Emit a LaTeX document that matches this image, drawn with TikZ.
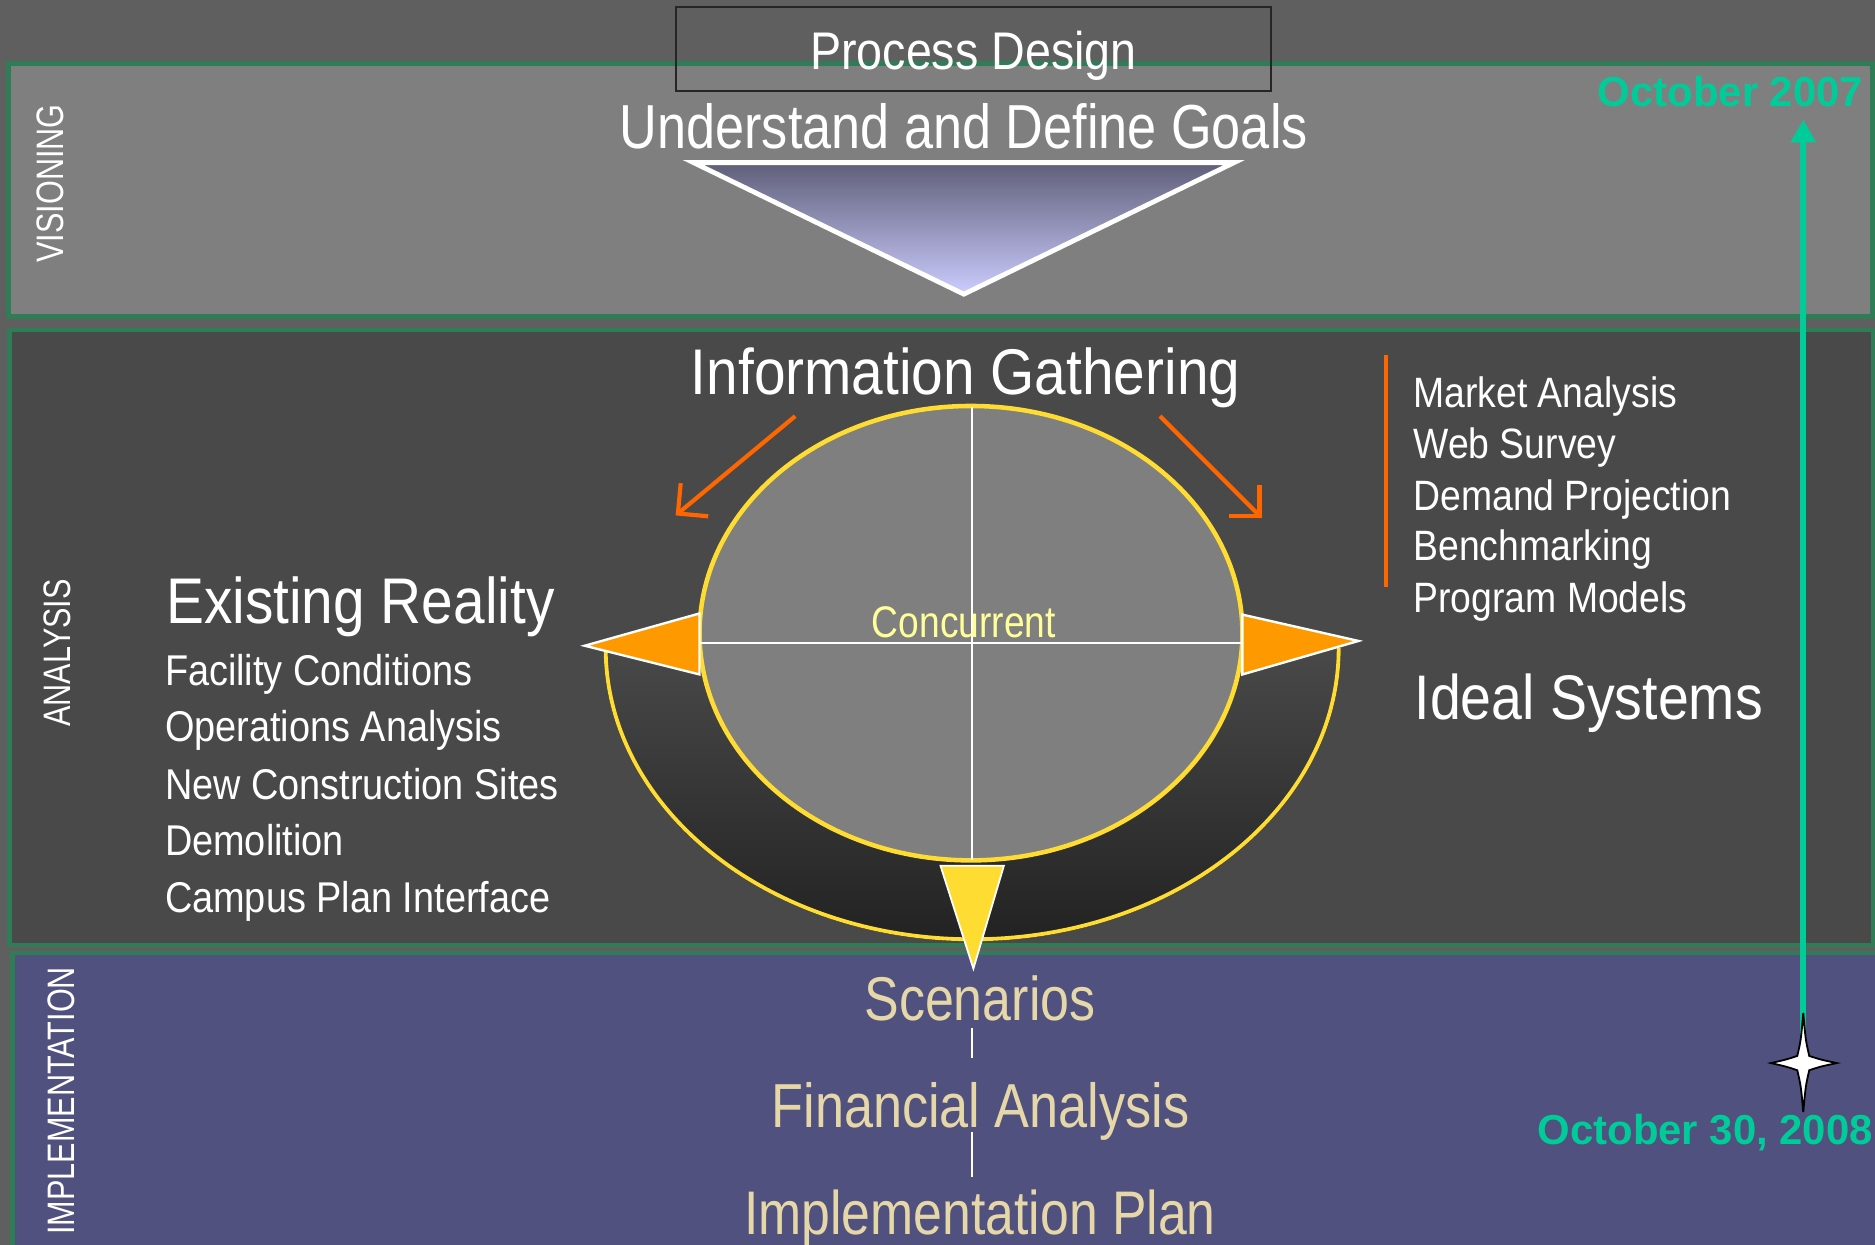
\documentclass[tikz,border=0pt]{standalone}
\usepackage{fontspec}
\setmainfont{Liberation Sans}
\newfontfamily\nar[FakeStretch=0.88]{Liberation Sans}
\newfontfamily\narl[FakeStretch=0.84]{Liberation Sans}
\newfontfamily\lbl[FakeStretch=0.8]{Liberation Sans}
\usetikzlibrary{arrows.meta}
\newcommand\myfs[1]{\fontsize{#1}{#1}\selectfont}
\definecolor{bgc}{HTML}{5F5F5F}
\definecolor{visfill}{HTML}{7F7F7F}
\definecolor{anafill}{HTML}{494949}
\definecolor{ringbot}{HTML}{222222}
\definecolor{impfill}{HTML}{50517E}
\definecolor{bandgreen}{HTML}{2E7D56}
\definecolor{teal}{HTML}{00CC99}
\definecolor{orng}{HTML}{FF6600}
\definecolor{orfill}{HTML}{FF9900}
\definecolor{ylw}{HTML}{FFDC32}
\definecolor{conc}{HTML}{FFFF99}
\definecolor{beige}{HTML}{E6D7A8}
\definecolor{tritop}{HTML}{5F5F79}
\definecolor{tribot}{HTML}{CCCCFF}
\begin{document}
\begin{tikzpicture}[x=1pt,y=-1pt,
  band/.style={draw=bandgreen, line width=4pt},
  txt/.style={inner sep=0pt, outer sep=0pt, text=white},
  sidelabel/.style={txt, rotate=90, font={\lbl\myfs{32}}},
  listitem/.style={txt, anchor=base west, font={\nar\myfs{35.5}}},
  bigtitle/.style={txt, font={\nar\myfs{54}}},
  lowtitle/.style={txt, anchor=base, text=beige},
  datelabel/.style={txt, text=teal, font={\bfseries\myfs{35}}},
  orarrow/.style={draw=orng, line width=3.5pt, -{Straight Barb[length=18pt,width=36pt]}},
  pointer/.style={draw=white, line width=2pt, line join=miter},
  thinwhite/.style={draw=white, line width=1.5pt}
]
\useasboundingbox (0,0) rectangle (1568,1041);
\fill[bgc] (0,0) rectangle (1568,1041);

% bands
\draw[band, fill=visfill] (7,53) rectangle (1566,265);
\draw[band, fill=anafill, line width=3.5pt] (8,276) rectangle (1566,790);
\draw[band, fill=impfill] (10.5,797) rectangle (1590,1070);

% side labels
\node[sidelabel] (vis) at (42.5,153.5) {VISIONING};
\node[sidelabel] (ana) at (48,546) {ANALYSIS};
\node[sidelabel] (imp) at (51.5,920.5) {IMPLEMENTATION};

% process design
\draw[draw=black!85, line width=1.5pt] (565,6) rectangle (1063,76);
\node[txt, anchor=base, font={\nar\myfs{44.3}}] (pd) at (814,58) {Process Design};
\node[txt, anchor=base, font={\narl\myfs{52}}] (goals) at (806,124) {Understand and Define Goals};
\draw[draw=white, line width=4pt, top color=tritop, bottom color=tribot, line join=miter]
  (580,136) -- (1032,136) -- (806,246) -- cycle;

% timeline
\node[datelabel, anchor=base east] (d1) at (1558,89) {October 2007};
\node[datelabel, anchor=base west] (d2) at (1286,957.5) {October 30, 2008};
\coordinate (tstart) at (1508,889);
\coordinate (tend) at (1508,100);
\draw[teal, line width=5pt, -{Triangle[length=19pt,width=20pt]}] (tstart) -- (tend);
\draw[fill=white, draw=black, line width=1.5pt, line join=miter]
  (1508,847) .. controls (1510,870) .. (1513,883)
  .. controls (1522,886) .. (1536,889)
  .. controls (1522,892) .. (1513,895)
  .. controls (1510,908) .. (1508,930)
  .. controls (1506,908) .. (1503,895)
  .. controls (1494,892) .. (1481,889)
  .. controls (1494,886) .. (1503,883)
  .. controls (1506,870) .. (1508,847) -- cycle;

% analysis: information gathering
\node[bigtitle, anchor=base] (info) at (807.5,330) {Information Gathering};
\coordinate (la1) at (665,348);
\coordinate (la2) at (565,431);
\coordinate (ra1) at (970,348);
\coordinate (ra2) at (1055,433);
\draw[orarrow] (la1) -- (la2);
\draw[orarrow] (ra1) -- (ra2);

% horseshoe
\fill[top color=anafill, bottom color=ringbot]
  (505,542) arc[start angle=180, end angle=360, x radius=308pt, y radius=245pt] -- cycle;
\draw[ylw, line width=3.2pt]
  (506.5,542) arc[start angle=180, end angle=360, x radius=306.5pt, y radius=243.5pt];

% central ellipse
\draw[fill=visfill, draw=ylw, line width=3.8pt] (812,529.5) ellipse [x radius=227pt, y radius=190pt];
\coordinate (ct) at (813,340);
\coordinate (cb) at (813,719);
\coordinate (cl) at (585,538);
\coordinate (cr) at (1039,538);
\draw[thinwhite] (ct) -- (cb);
\draw[thinwhite] (cl) -- (cr);
\node[txt, anchor=base, text=conc, font={\narl\myfs{37}}] (cc) at (806,533) {Concurrent};

% pointers
\draw[pointer, fill=orfill] (489,540) -- (585,513) -- (585,564) -- cycle;
\draw[pointer, fill=orfill] (1136,536) -- (1039,514) -- (1039,564) -- cycle;
\draw[draw=white, line width=1.5pt, fill=ylw, line join=miter] (786.5,724) -- (839.5,724) -- (814,810) -- cycle;

% existing reality
\node[bigtitle, anchor=base west] (er) at (139,521) {Existing Reality};
\node[listitem, font={\nar\myfs{36}}] (l1) at (138,573.4) {Facility Conditions};
\node[listitem, font={\nar\myfs{36}}] (l2) at (138,620.4) {Operations Analysis};
\node[listitem, font={\nar\myfs{36}}] (l3) at (138,668.7) {New Construction Sites};
\node[listitem, font={\nar\myfs{36}}] (l4) at (138,715.6) {Demolition};
\node[listitem, font={\nar\myfs{36}}] (l5) at (138,763.5) {Campus Plan Interface};

% right list
\coordinate (ob1) at (1159,297);
\coordinate (ob2) at (1159,491);
\draw[orng, line width=3pt] (ob1) -- (ob2);
\node[listitem] (r1) at (1182,341) {Market Analysis};
\node[listitem] (r2) at (1182,383.5) {Web Survey};
\node[listitem] (r3) at (1182,426.5) {Demand Projection};
\node[listitem] (r4) at (1182,469) {Benchmarking};
\node[listitem] (r5) at (1182,512.5) {Program Models};
\node[bigtitle, anchor=base west, font={\nar\myfs{52.7}}] (is) at (1183,601.5) {Ideal Systems};

% implementation
\node[lowtitle, font={\narl\myfs{51.7}}] (sc) at (819.5,853) {Scenarios};
\node[lowtitle, font={\narl\myfs{52}}] (fa) at (820,942.6) {Financial Analysis};
\node[lowtitle, font={\narl\myfs{51.5}}] (ip) at (819.5,1032) {Implementation Plan};
\coordinate (s1) at (813,860);
\coordinate (s2) at (813,885);
\coordinate (s3) at (813,947);
\coordinate (s4) at (813,984);
\draw[thinwhite] (s1) -- (s2);
\draw[thinwhite] (s3) -- (s4);
\end{tikzpicture}
\end{document}
